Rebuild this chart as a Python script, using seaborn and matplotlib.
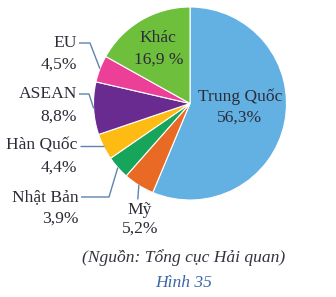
import numpy as np
import matplotlib
matplotlib.use("Agg")
import matplotlib.pyplot as plt
import seaborn as sns

labels = ["Trung Quốc", "Mỹ", "Nhật Bản", "Hàn Quốc", "ASEAN", "EU", "Khác"]
values = [56.3, 5.2, 3.9, 4.4, 8.8, 4.5, 16.9]
value_text = ["56,3%", "5,2%", "3,9%", "4,4%", "8,8%", "4,5%", "16,9 %"]
colors = ["#63B1E3", "#E96A25", "#16A55A", "#FDBB13", "#6A2B90", "#EC3F98", "#6DBF3C"]
source = "(Nguồn: Tổng cục Hải quan)"
caption = "Hình 35"

sns.set_style("white")
plt.rcParams["font.family"] = ["Liberation Serif", "DejaVu Serif"]

W, H = 336, 297
fig = plt.figure(figsize=(W / 100, H / 100), dpi=100)
ax = fig.add_axes([0, 0, 1, 1])

def Y(py):
    return H - py

cx, cy, R = 190, Y(103.5), 96.5
palette = sns.color_palette(colors)
wedges, _ = ax.pie(values, colors=palette, startangle=90, counterclock=False,
                   center=(cx, cy), radius=R, frame=True,
                   wedgeprops=dict(edgecolor="white", linewidth=0.8))
ax.set_xlim(0, W)
ax.set_ylim(0, H)
ax.set_aspect("equal")
ax.axis("off")

tc = "#2c2c38"
lc = "#5b84b1"
fs = 12.6

def edge_point(i):
    w = wedges[i]
    a = np.deg2rad((w.theta1 + w.theta2) / 2)
    return cx + R * np.cos(a), cy + R * np.sin(a)

# inside labels
ax.text(240, Y(97), labels[0], ha="center", va="center", fontsize=fs, color=tc)
ax.text(239, Y(118), value_text[0], ha="center", va="center", fontsize=fs, color=tc)
ax.text(158, Y(38), labels[6], ha="center", va="center", fontsize=fs, color=tc)
ax.text(159, Y(60), value_text[6], ha="center", va="center", fontsize=fs, color=tc)

# outside labels: (index, text x right, name y, value y, elbow)
outside = [
    (5, 77, 43, 65, (90, 43)),
    (4, 77, 94, 117, (89, 94)),
    (3, 77, 146, 168, None),
    (2, 79, 197, 219, (109, 197)),
]
for i, xr, ny, vy, elbow in outside:
    ax.text(xr, Y(ny), labels[i], ha="right", va="center", fontsize=fs, color=tc)
    ax.text(xr, Y(vy), value_text[i], ha="right", va="center", fontsize=fs, color=tc)
    ex, ey = edge_point(i)
    if elbow is None:
        xs = [xr + 3, ex]
        ys = [Y(ny), Y(ny)]
    else:
        xs = [xr + 2, elbow[0], ex]
        ys = [Y(ny), Y(elbow[1]), ey]
    ax.plot(xs, ys, color=lc, lw=1.0, solid_capstyle="butt")

# Mỹ
ex, ey = edge_point(1)
ax.plot([ex, ex - 1], [ey, Y(199)], color=lc, lw=1.0)
ax.text(140, Y(210), labels[1], ha="center", va="center", fontsize=fs, color=tc)
ax.text(140, Y(229), value_text[1], ha="center", va="center", fontsize=fs, color=tc)

ax.text(184, Y(258), source, ha="center", va="center", fontsize=fs,
        style="italic", color="#34343e")
ax.text(184, Y(283), caption, ha="center", va="center", fontsize=fs,
        style="italic", color="#3b67a8")

fig.savefig("out.png", dpi=100)
